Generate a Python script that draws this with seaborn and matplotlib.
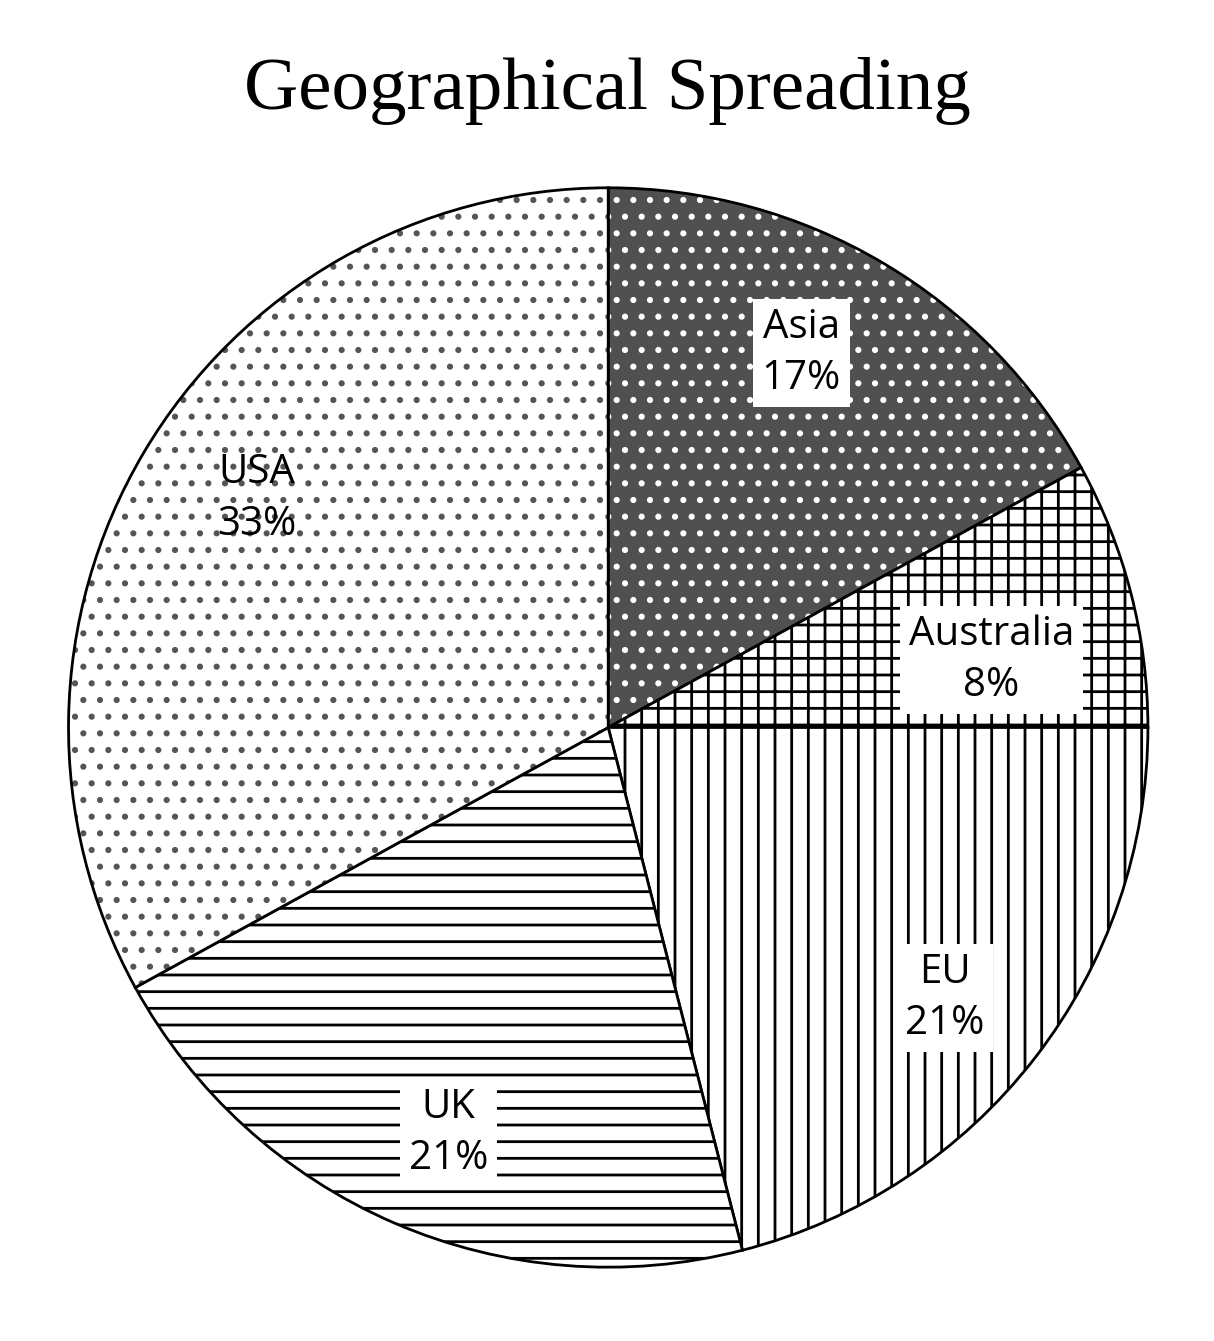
import matplotlib
matplotlib.use("Agg")
import matplotlib.pyplot as plt
import seaborn as sns

regions = ["Asia", "Australia", "EU", "UK", "USA"]
shares = [17, 8, 21, 21, 33]
facecolors = ["#505050", "white", "white", "white", "white"]
hatches = [".", "+", "|", "-", "."]
hatchcolors = ["white", "black", "black", "black", "#555555"]
label_pos = [(0.358, 0.694), (0.710, 0.125), (0.624, -0.501), (-0.296, -0.752), (-0.651, 0.424)]
boxed = [True, True, True, True, False]

sns.set_theme(style="white")
plt.rcParams["hatch.linewidth"] = 2.0
plt.rcParams["text.color"] = "black"

fig = plt.figure(figsize=(12.14, 13.41), dpi=100)
ax = fig.add_axes([0.052, 0.051, 0.898, 0.813])
wedges, _ = ax.pie(shares, startangle=90, counterclock=False, radius=1,
                   colors=facecolors,
                   wedgeprops=dict(edgecolor="black", linewidth=2))
for w, h, hc in zip(wedges, hatches, hatchcolors):
    w.set_hatch(h)
    w._hatch_color = matplotlib.colors.to_rgba(hc)
for (x, y), r, s, b in zip(label_pos, regions, shares, boxed):
    kw = dict(ha="center", va="center", fontsize=29, family="Open Sans",
              linespacing=1.35, color="black")
    if b:
        kw["bbox"] = dict(facecolor="white", edgecolor="none", pad=6)
    ax.text(x, y, f"{r}\n{s}%", **kw)
ax.set_xlim(-1.01, 1.01)
ax.set_ylim(-1.01, 1.01)
ax.set_aspect("equal")
ax.axis("off")
fig.text(0.5, 0.932, "Geographical Spreading", ha="center", va="center",
         fontsize=54, family="Liberation Serif", color="black")
fig.savefig("out.png", dpi=100, facecolor="white")
